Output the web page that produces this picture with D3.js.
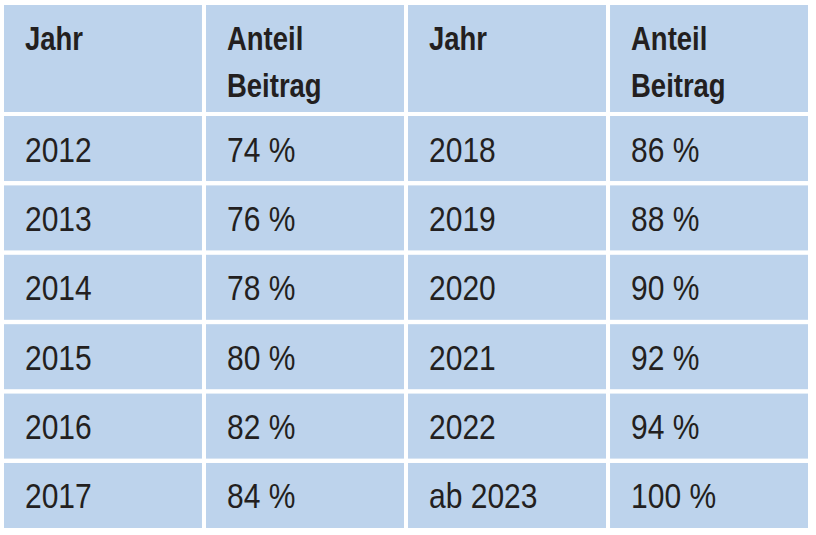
<!DOCTYPE html>
<html><head><meta charset="utf-8">
<script src="https://cdn.jsdelivr.net/npm/d3@7"></script>
<style>
html,body{margin:0;padding:0;background:#fff;}
text{font-family:"Liberation Sans",Arial,sans-serif;fill:#231f20;}
</style></head>
<body>
<svg id="chart" width="816" height="535"></svg>
<script>
const headers = [["Jahr"], ["Anteil", "Beitrag"], ["Jahr"], ["Anteil", "Beitrag"]];
const yearsLeft = ["2012", "2013", "2014", "2015", "2016", "2017"];
const shareLeft = [74, 76, 78, 80, 82, 84];
const yearsRight = ["2018", "2019", "2020", "2021", "2022", "ab 2023"];
const shareRight = [86, 88, 90, 92, 94, 100];

const svg = d3.select("#chart");
svg.append("rect").attr("width", 816).attr("height", 535).attr("fill", "#fff");

const fill = "#bdd3ec";
const x = d3.scaleBand().domain(d3.range(4)).range([4, 808]).paddingInner(0.02);
const y = d3.scaleBand().domain(d3.range(6)).range([116, 528]).paddingInner(0.063);
const headTop = 5, headBottom = 112;
const padL = 21;
const sx = 0.845;
const fmt = v => v + " %";

// header cells
const hg = svg.append("g");
hg.selectAll("rect").data(headers).join("rect")
  .attr("x", (d, i) => x(i)).attr("y", headTop)
  .attr("width", x.bandwidth()).attr("height", headBottom - headTop)
  .attr("fill", fill);
headers.forEach((lines, i) => {
  const t = hg.append("text")
    .attr("transform", `translate(${x(i) + padL},50) scale(${sx},1)`)
    .attr("font-size", 32.5).attr("font-weight", "bold");
  lines.forEach((l, k) => t.append("tspan").attr("x", 0).attr("dy", k === 0 ? 0 : 47).text(l));
});

// body
const rows = yearsLeft.map((yr, i) => [yr, fmt(shareLeft[i]), yearsRight[i], fmt(shareRight[i])]);
const bg = svg.append("g");
rows.forEach((r, ri) => {
  r.forEach((val, ci) => {
    bg.append("rect").attr("x", x(ci)).attr("y", y(ri))
      .attr("width", x.bandwidth()).attr("height", y.bandwidth()).attr("fill", fill);
    bg.append("text")
      .attr("transform", `translate(${x(ci) + padL},${y(ri) + y.bandwidth() / 2 + 13}) scale(${sx},1)`)
      .attr("font-size", 35.5).text(val);
  });
});
</script>
</body></html>
